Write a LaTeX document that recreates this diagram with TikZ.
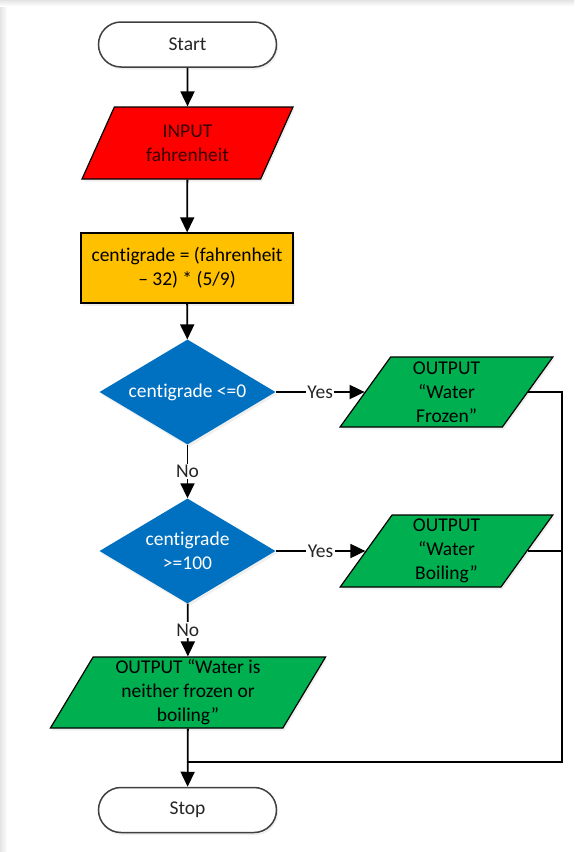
\documentclass[tikz,border=0pt]{standalone}
\usepackage{fontspec}
\setmainfont{Carlito}[Ligatures={NoCommon}]
\usetikzlibrary{arrows.meta,shapes.geometric,shadows}

\definecolor{fcred}{HTML}{FF0000}
\definecolor{fcorange}{HTML}{FFC000}
\definecolor{fcblue}{HTML}{0070C0}
\definecolor{fcgreen}{HTML}{00B050}
\definecolor{termline}{HTML}{404040}
\definecolor{redtext}{RGB}{55,0,0}
\definecolor{pageedge}{HTML}{E4E4E4}

\begin{document}
\begin{tikzpicture}[x=1pt,y=-1pt,
  every node/.style={font=\fontsize{19.5}{24}\selectfont, align=center, inner sep=0pt},
  softshadow/.style={drop shadow={opacity=0.12, shadow xshift=1.5pt, shadow yshift=-2.5pt}},
  terminal/.style={rectangle, rounded corners=22.5pt, draw=termline, line width=1.5pt,
    fill=white, minimum width=178pt, minimum height=45pt, text=black!85, softshadow},
  iobox/.style={trapezium, trapezium left angle=63.5, trapezium right angle=116.5,
    trapezium stretches=true, draw=black, line width=1.2pt, minimum height=70pt, softshadow},
  procbox/.style={rectangle, draw=black, line width=1.2pt, fill=fcorange,
    minimum width=212pt, minimum height=70pt, softshadow},
  decision/.style={diamond, fill=fcblue, text=white, minimum width=176pt,
    minimum height=105pt, aspect=1.676, softshadow},
  conn/.style={draw=black, line width=1.8pt, -{Triangle[width=14pt,length=15pt]}},
  wire/.style={draw=black, line width=1.8pt},
  lbl/.style={fill=white, inner sep=1.5pt, text=black!85}]

  % page with a soft grey edge at top and left
  \fill[white] (0,0) rectangle (574,852);
  \shade[left color=pageedge, right color=white] (0,0) rectangle (7,852);
  \shade[top color=pageedge, bottom color=white] (0,0) rectangle (574,6);
  \useasboundingbox (0,0) rectangle (574,852);

  % flowchart nodes
  \node[terminal] (start) at (187.5,44.5) {Start};
  \node[iobox, fill=fcred, text=redtext, minimum width=211pt, minimum height=72pt] (in) at (187.5,143) {INPUT\\fahrenheit};
  \node[procbox] (proc) at (187,268) {centigrade = (fahrenheit\\– 32) * (5/9)};
  \node[decision] (d1) at (187.5,392) {centigrade <=0};
  \node[iobox, fill=fcgreen, minimum width=213pt] (o1) at (446.5,392) {OUTPUT\\“Water\\Frozen”};
  \node[decision] (d2) at (187.5,551) {centigrade\\>=100};
  \node[iobox, fill=fcgreen, minimum width=213pt, minimum height=72pt] (o2) at (446.5,551) {OUTPUT\\“Water\\Boiling”};
  \node[iobox, fill=fcgreen, minimum width=276pt, minimum height=71pt] (o3) at (188,692.5) {OUTPUT “Water is\\neither frozen or\\boiling”};
  \node[terminal] (stop) at (187.5,810) {Stop};

  % junction points of the return line
  \coordinate (railbot) at (562,762);
  \coordinate (merge) at (188,762);

  % connectors
  \draw[conn] (start) -- (in);
  \draw[conn] (in) -- (proc);
  \draw[conn] (proc) -- (d1);
  \draw[conn] (d1.east) -- node[lbl] {Yes} (o1.left side);
  \draw[conn] (d1) -- node[lbl] {No} (d2);
  \draw[conn] (d2.east) -- node[lbl] {Yes} (o2.left side);
  \draw[conn] (d2) -- node[lbl] {No} (o3);
  \draw[wire] (o1.right side) -| (railbot) -- (merge);
  \draw[wire] (o2.right side) -- (o2.right side -| railbot);
  \draw[conn] (o3) -- (stop);
\end{tikzpicture}
\end{document}
